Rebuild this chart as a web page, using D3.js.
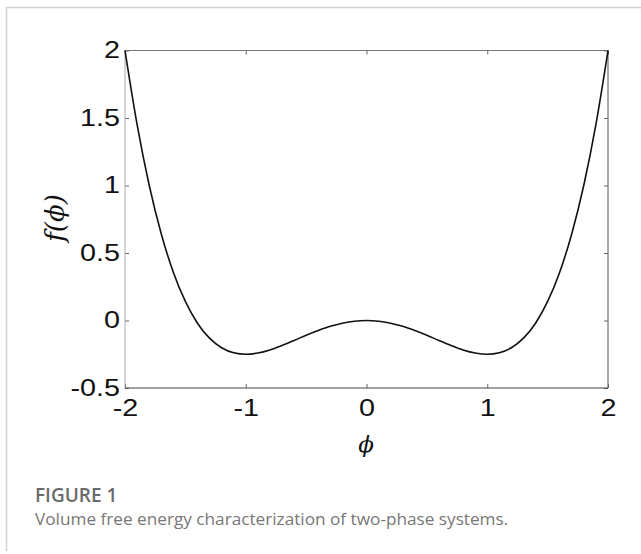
<!DOCTYPE html>
<html><head><meta charset="utf-8">
<script src="https://cdn.jsdelivr.net/npm/d3@7"></script>
<style>body{margin:0;background:#fff;}svg{display:block;}</style>
</head><body>
<script>
const phiValues = [-2,-1.9,-1.8,-1.7,-1.6,-1.5,-1.4,-1.3,-1.2,-1.1,-1,-0.9,-0.8,-0.7,-0.6,-0.5,-0.4,-0.3,-0.2,-0.1,0,
  0.1,0.2,0.3,0.4,0.5,0.6,0.7,0.8,0.9,1,1.1,1.2,1.3,1.4,1.5,1.6,1.7,1.8,1.9,2];
const fValues = [2,1.453,1.004,0.643,0.358,0.141,-0.020,-0.131,-0.202,-0.239,-0.25,-0.241,-0.218,-0.185,-0.148,-0.109,-0.074,-0.043,-0.020,-0.005,0,
  -0.005,-0.020,-0.043,-0.074,-0.109,-0.148,-0.185,-0.218,-0.241,-0.25,-0.239,-0.202,-0.131,-0.020,0.141,0.358,0.643,1.004,1.453,2];
const xTicks = [-2,-1,0,1,2];
const yTicks = [-0.5,0,0.5,1,1.5,2];
const caption = ["FIGURE 1","Volume free energy characterization of two-phase systems."];

const W=641,H=554;
const svg=d3.select("body").append("svg").attr("width",W).attr("height",H);
// frame
svg.append("line").attr("x1",6.5).attr("x2",W).attr("y1",7.5).attr("y2",7.5).attr("stroke","#d0d0d0").attr("stroke-width",1.5);
svg.append("line").attr("x1",6.5).attr("x2",6.5).attr("y1",7.5).attr("y2",551).attr("stroke","#d0d0d0").attr("stroke-width",1.5);

const L=125,R=608,T=50.5,B=388;
const x=d3.scaleLinear().domain([-2,2]).range([L,R]);
const y=d3.scaleLinear().domain([-0.5,2]).range([B,T]);

const font="'Liberation Sans', Arial, sans-serif";
const SX=1.25;
// box
svg.append("line").attr("x1",L).attr("x2",R).attr("y1",T).attr("y2",T).attr("stroke","#777");
svg.append("line").attr("x1",R).attr("x2",R).attr("y1",T).attr("y2",B).attr("stroke","#555");

const xb=svg.append("g").attr("transform",`translate(0,${B})`).call(d3.axisBottom(x).tickValues(xTicks).tickSize(-4).tickPadding(11).tickFormat(d=>String(d)));
const xt=svg.append("g").attr("transform",`translate(0,${T})`).call(d3.axisTop(x).tickValues(xTicks).tickSize(-4).tickFormat(""));
const yl=svg.append("g").attr("transform",`translate(${L},0)`).call(d3.axisLeft(y).tickValues(yTicks).tickSize(-4).tickPadding(5).tickFormat(d=>String(d)));
const yr=svg.append("g").attr("transform",`translate(${R},0)`).call(d3.axisRight(y).tickValues(yTicks).tickSize(-4).tickFormat(""));
[xb,xt,yl,yr].forEach(g=>{g.select(".domain").remove();g.selectAll(".tick line").attr("stroke","#666");});
svg.append("line").attr("x1",L).attr("x2",L).attr("y1",T).attr("y2",B).attr("stroke","#aaa");
svg.append("line").attr("x1",L).attr("x2",R).attr("y1",B).attr("y2",B).attr("stroke","#444");
[xb,yl].forEach(g=>g.selectAll(".tick text").attr("font-family",font).attr("font-size",23).attr("fill","#111")
  .attr("transform",`scale(${SX},1)`));
yl.selectAll(".tick text").attr("x",-5/SX);
xb.selectAll(".tick text").attr("y",11).attr("dy","0.72em");

const pts=phiValues.map((p,i)=>[p,fValues[i]]);
svg.append("path").datum(pts).attr("fill","none").attr("stroke","#111").attr("stroke-width",1.6)
  .attr("d",d3.line().x(d=>x(d[0])).y(d=>y(d[1])).curve(d3.curveMonotoneX));

// axis labels
svg.append("text").attr("x",366).attr("y",452).attr("text-anchor","middle").attr("font-family","'DejaVu Serif', serif")
  .attr("font-style","italic").attr("font-size",23).attr("fill","#111").text("ϕ");
svg.append("text").attr("transform","translate(64,218) rotate(-90)").attr("text-anchor","middle")
  .attr("font-family","'DejaVu Serif', serif").attr("font-style","italic").attr("font-size",26).attr("fill","#111").text("f(ϕ)");

// caption
svg.append("text").attr("x",35).attr("y",502).attr("font-family","'Open Sans', sans-serif").attr("font-weight",600)
  .attr("font-size",19).attr("fill","#6a6a6a").text(caption[0]);
svg.append("text").attr("x",35).attr("y",525).attr("font-family","'Open Sans', sans-serif")
  .attr("font-size",17.2).attr("fill","#777").text(caption[1]);
</script>
</body></html>
